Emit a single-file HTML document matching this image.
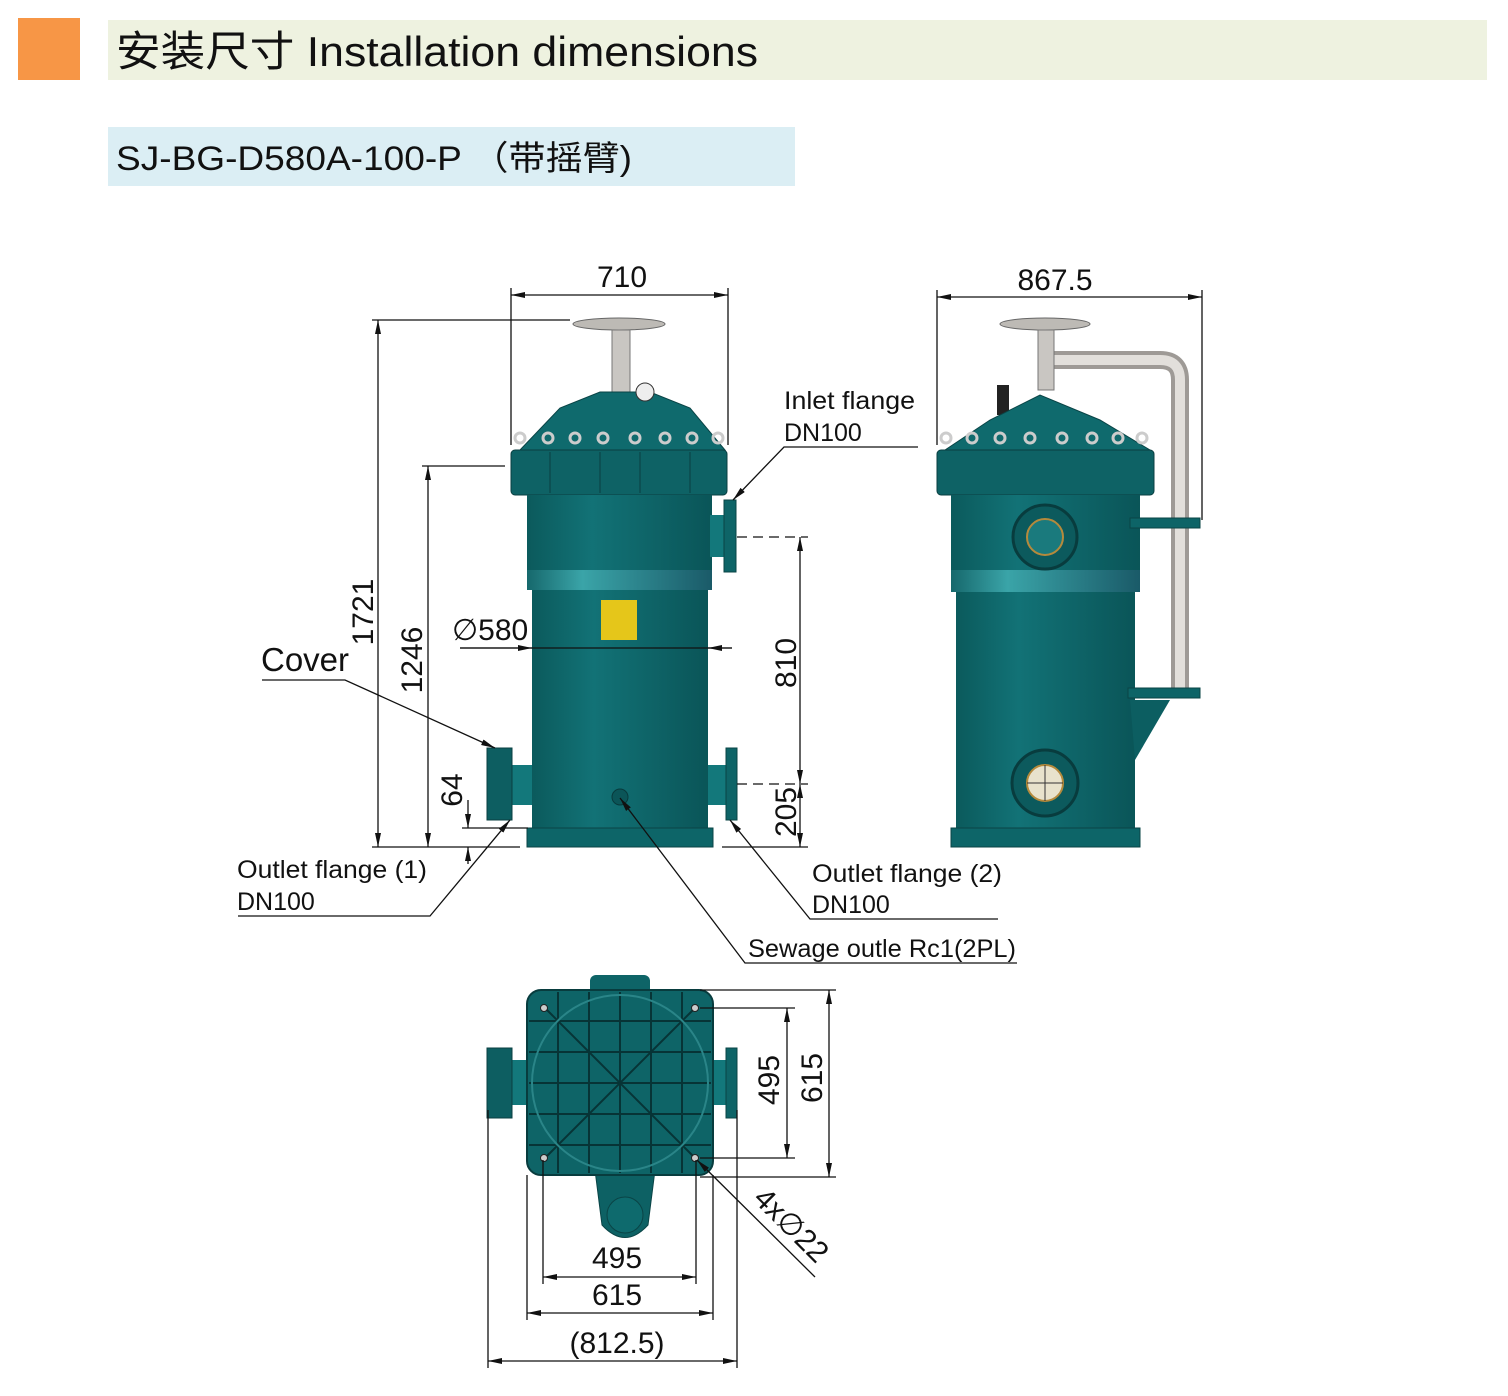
<!DOCTYPE html>
<html><head><meta charset="utf-8"><style>
html,body{margin:0;padding:0;background:#fff;}
svg{display:block}
.d{font-family:"Liberation Sans Narrow","Liberation Sans",sans-serif;font-size:30px;fill:#111}
.l{font-family:"Liberation Sans",sans-serif;font-size:25px;fill:#111}
</style></head><body>
<svg width="1508" height="1396" viewBox="0 0 1508 1396" xmlns="http://www.w3.org/2000/svg">
<defs>
<linearGradient id="body" x1="0" x2="1" y1="0" y2="0">
<stop offset="0" stop-color="#0b5a5c"/><stop offset="0.35" stop-color="#127276"/><stop offset="1" stop-color="#0a5558"/>
</linearGradient>
<linearGradient id="band" x1="0" x2="1">
<stop offset="0" stop-color="#16686c"/><stop offset="0.3" stop-color="#3aa4a8"/><stop offset="1" stop-color="#1a5a68"/>
</linearGradient>
<marker id="a" markerWidth="14" markerHeight="6" refX="14" refY="3" orient="auto" markerUnits="userSpaceOnUse"><path d="M0,0 L14,3 L0,6z" fill="#111"/></marker>
<marker id="s" markerWidth="14" markerHeight="6" refX="0" refY="3" orient="auto" markerUnits="userSpaceOnUse"><path d="M14,0 L0,3 L14,6z" fill="#111"/></marker>
</defs>

<!-- headers -->
<rect x="18" y="18" width="62" height="62" fill="#f79646"/>
<rect x="108" y="20" width="1379" height="60" fill="#eef2e0"/>
<text x="116" y="66" textLength="642" lengthAdjust="spacingAndGlyphs" style="font-family:'Liberation Sans','Noto Sans CJK SC',sans-serif;font-size:42px" fill="#111">安装尺寸 Installation dimensions</text>
<rect x="108" y="127" width="687" height="59" fill="#dbeef4"/>
<text x="116" y="170" textLength="516" lengthAdjust="spacingAndGlyphs" style="font-family:'Liberation Sans','Noto Sans CJK SC',sans-serif;font-size:34px" fill="#111">SJ-BG-D580A-100-P （带摇臂)</text>

<!-- FRONT VIEW -->
<g>
<ellipse cx="619" cy="324" rx="46" ry="6" fill="#bdbab5" stroke="#666"/>
<rect x="612" y="330" width="18" height="62" fill="#c9c6c2" stroke="#777"/>
<path d="M520,450 L560,408 L600,392 L650,392 L690,408 L725,450z" fill="#0f6a6d" stroke="#0a4446"/>
<circle cx="645" cy="392" r="9" fill="#eee" stroke="#333"/>
<g fill="none" stroke="#ccc" stroke-width="3">
<circle cx="520" cy="438" r="5"/><circle cx="548" cy="438" r="5"/><circle cx="575" cy="438" r="5"/><circle cx="603" cy="438" r="5"/><circle cx="635" cy="438" r="5"/><circle cx="665" cy="438" r="5"/><circle cx="692" cy="438" r="5"/><circle cx="718" cy="438" r="5"/>
</g>
<rect x="511" y="450" width="216" height="45" rx="4" fill="#0e6265" stroke="#0a3f41"/>
<g stroke="#0a3f41"><line x1="550" y1="452" x2="550" y2="493"/><line x1="600" y1="452" x2="600" y2="493"/><line x1="640" y1="452" x2="640" y2="493"/><line x1="690" y1="452" x2="690" y2="493"/></g>
<rect x="527" y="495" width="185" height="75" fill="url(#body)"/>
<rect x="527" y="570" width="185" height="20" fill="url(#band)"/>
<rect x="532" y="590" width="176" height="238" fill="url(#body)"/>
<rect x="527" y="828" width="186" height="19" fill="#0d6568" stroke="#0a4446"/>
<rect x="601" y="600" width="36" height="40" fill="#e5c61a"/>
<rect x="710" y="515" width="14" height="42" fill="#13787b"/>
<rect x="724" y="500" width="12" height="72" fill="#0e6467" stroke="#0a4446"/>
<rect x="510" y="765" width="22" height="40" fill="#13787b"/>
<rect x="487" y="748" width="25" height="72" fill="#0d5e61" stroke="#0a3f41"/>
<rect x="708" y="765" width="18" height="40" fill="#13787b"/>
<rect x="726" y="748" width="11" height="72" fill="#0e6467" stroke="#0a4446"/>
<circle cx="620" cy="797" r="8" fill="#0b5558" stroke="#083a3c"/>
</g>

<!-- SIDE VIEW -->
<g>
<path d="M1046,360 L1160,360 Q1180,360 1180,380 L1180,690" fill="none" stroke="#9e9a96" stroke-width="18"/>
<path d="M1046,360 L1160,360 Q1180,360 1180,380 L1180,690" fill="none" stroke="#e2dfdb" stroke-width="10"/>
<ellipse cx="1045" cy="324" rx="45" ry="6" fill="#bdbab5" stroke="#666"/>
<rect x="1038" y="330" width="16" height="60" fill="#c9c6c2" stroke="#777"/>
<rect x="997" y="385" width="12" height="30" fill="#222"/>
<path d="M945,450 L990,420 L1040,395 L1100,420 L1150,450z" fill="#0f6a6d" stroke="#0a4446"/>
<g fill="none" stroke="#ccc" stroke-width="3">
<circle cx="946" cy="438" r="5"/><circle cx="972" cy="438" r="5"/><circle cx="1000" cy="438" r="5"/><circle cx="1030" cy="438" r="5"/><circle cx="1062" cy="438" r="5"/><circle cx="1092" cy="438" r="5"/><circle cx="1118" cy="438" r="5"/><circle cx="1142" cy="438" r="5"/>
</g>
<rect x="937" y="450" width="217" height="45" rx="4" fill="#0e6265" stroke="#0a3f41"/>
<rect x="951" y="495" width="189" height="75" fill="url(#body)"/>
<rect x="951" y="570" width="189" height="22" fill="url(#band)"/>
<rect x="956" y="592" width="179" height="236" fill="url(#body)"/>
<rect x="951" y="828" width="189" height="19" fill="#0d6568" stroke="#0a4446"/>
<path d="M1130,700 L1170,700 L1135,760z" fill="#0c5e61"/>
<rect x="1130" y="518" width="70" height="10" fill="#0d6467" stroke="#0a4446"/>
<rect x="1128" y="688" width="72" height="10" fill="#0d6467" stroke="#0a4446"/>
<circle cx="1045" cy="537" r="32" fill="#0c5a5d" stroke="#083c3e" stroke-width="3"/>
<circle cx="1045" cy="537" r="18" fill="#1a7a7d" stroke="#b58a3c" stroke-width="2"/>
<circle cx="1045" cy="783" r="33" fill="#0c5a5d" stroke="#083c3e" stroke-width="3"/>
<circle cx="1045" cy="783" r="18" fill="#e8e2cc" stroke="#b58a3c" stroke-width="2"/>
<path d="M1045,765 V801 M1027,783 H1063" stroke="#333"/>
</g>

<!-- TOP VIEW -->
<g>
<rect x="590" y="975" width="60" height="20" rx="6" fill="#0e6467"/>
<path d="M595,1170 L655,1170 L648,1225 Q625,1250 602,1225z" fill="#0d6164" stroke="#0a4446"/>
<circle cx="625" cy="1215" r="18" fill="#0e6a6d" stroke="#0a4446"/>
<rect x="512" y="1060" width="18" height="45" fill="#13787b"/>
<rect x="487" y="1048" width="25" height="70" fill="#0d5e61" stroke="#0a3f41"/>
<rect x="710" y="1060" width="16" height="45" fill="#13787b"/>
<rect x="726" y="1048" width="11" height="70" fill="#0e6467" stroke="#0a4446"/>
<rect x="527" y="990" width="186" height="185" rx="14" fill="#0e6467" stroke="#083c3e" stroke-width="2"/>
<g stroke="#073436" stroke-width="2" fill="none">
<line x1="558" y1="992" x2="558" y2="1173"/><line x1="589" y1="992" x2="589" y2="1173"/><line x1="620" y1="992" x2="620" y2="1173"/><line x1="651" y1="992" x2="651" y2="1173"/><line x1="682" y1="992" x2="682" y2="1173"/>
<line x1="529" y1="1021" x2="711" y2="1021"/><line x1="529" y1="1052" x2="711" y2="1052"/><line x1="529" y1="1083" x2="711" y2="1083"/><line x1="529" y1="1114" x2="711" y2="1114"/><line x1="529" y1="1145" x2="711" y2="1145"/>
<line x1="545" y1="1008" x2="695" y2="1158"/><line x1="695" y1="1008" x2="545" y2="1158"/>
<circle cx="620" cy="1083" r="88" stroke="#2a8588"/>
</g>
<g fill="#ccc" stroke="#222"><circle cx="544" cy="1008" r="3.5"/><circle cx="695" cy="1008" r="3.5"/><circle cx="544" cy="1158" r="3.5"/><circle cx="695" cy="1158" r="3.5"/></g>
</g>

<g stroke="#111" stroke-width="1.3" fill="none">
<line x1="511" y1="288" x2="511" y2="445"/><line x1="728" y1="288" x2="728" y2="445"/>
<line x1="511" y1="295" x2="728" y2="295" marker-start="url(#s)" marker-end="url(#a)"/>
<line x1="372" y1="320" x2="570" y2="320"/>
<line x1="372" y1="847" x2="520" y2="847"/>
<line x1="378" y1="320" x2="378" y2="847" marker-start="url(#s)" marker-end="url(#a)"/>
<line x1="422" y1="466" x2="505" y2="466"/>
<line x1="428" y1="466" x2="428" y2="847" marker-start="url(#s)" marker-end="url(#a)"/>
<line x1="462" y1="828" x2="528" y2="828"/>
<line x1="468" y1="800" x2="468" y2="828" marker-end="url(#a)"/>
<line x1="468" y1="864" x2="468" y2="847" marker-end="url(#a)"/>
<line x1="460" y1="648" x2="732" y2="648"/>
<line x1="460" y1="648" x2="532" y2="648" marker-end="url(#a)"/>
<line x1="708" y1="648" x2="732" y2="648" marker-start="url(#s)"/>
<line x1="737" y1="537" x2="808" y2="537" stroke-dasharray="10,6"/>
<line x1="737" y1="784" x2="808" y2="784" stroke-dasharray="10,6"/>
<line x1="722" y1="847" x2="808" y2="847"/>
<line x1="800" y1="537" x2="800" y2="784" marker-start="url(#s)" marker-end="url(#a)"/>
<line x1="800" y1="784" x2="800" y2="847" marker-start="url(#s)" marker-end="url(#a)"/>
<polyline points="262,680 345,680 495,748" marker-end="url(#a)"/>
<polyline points="918,447 784,447 733,500" marker-end="url(#a)"/>
<polyline points="238,916 430,916 510,820" marker-end="url(#a)"/>
<polyline points="998,919 810,919 730,820" marker-end="url(#a)"/>
<polyline points="1017,963 745,963 620,798" marker-end="url(#a)"/>
<line x1="937" y1="290" x2="937" y2="445"/><line x1="1202" y1="290" x2="1202" y2="520"/>
<line x1="937" y1="297" x2="1202" y2="297" marker-start="url(#s)" marker-end="url(#a)"/>
<line x1="700" y1="990" x2="836" y2="990"/><line x1="700" y1="1177" x2="836" y2="1177"/>
<line x1="700" y1="1008" x2="795" y2="1008"/><line x1="700" y1="1158" x2="795" y2="1158"/>
<line x1="787" y1="1008" x2="787" y2="1158" marker-start="url(#s)" marker-end="url(#a)"/>
<line x1="829" y1="990" x2="829" y2="1177" marker-start="url(#s)" marker-end="url(#a)"/>
<line x1="488" y1="1110" x2="488" y2="1368"/><line x1="737" y1="1110" x2="737" y2="1368"/>
<line x1="527" y1="1175" x2="527" y2="1320"/><line x1="713" y1="1175" x2="713" y2="1320"/>
<line x1="543" y1="1160" x2="543" y2="1284"/><line x1="696" y1="1160" x2="696" y2="1284"/>
<line x1="543" y1="1277" x2="696" y2="1277" marker-start="url(#s)" marker-end="url(#a)"/>
<line x1="527" y1="1313" x2="713" y2="1313" marker-start="url(#s)" marker-end="url(#a)"/>
<line x1="488" y1="1361" x2="737" y2="1361" marker-start="url(#s)" marker-end="url(#a)"/>
<line x1="815" y1="1277" x2="697" y2="1160" marker-end="url(#a)"/>
</g>

<text class="d" x="622" y="287" text-anchor="middle">710</text>
<text class="d" x="1055" y="290" text-anchor="middle">867.5</text>
<text class="d" transform="translate(373,612) rotate(-90)" text-anchor="middle">1721</text>
<text class="d" transform="translate(422,660) rotate(-90)" text-anchor="middle">1246</text>
<text class="d" transform="translate(462,790) rotate(-90)" text-anchor="middle">64</text>
<text class="d" x="452" y="640">∅580</text>
<text class="d" transform="translate(796,663) rotate(-90)" text-anchor="middle">810</text>
<text class="d" transform="translate(796,812) rotate(-90)" text-anchor="middle">205</text>
<text class="d" transform="translate(779,1080) rotate(-90)" text-anchor="middle">495</text>
<text class="d" transform="translate(822,1078) rotate(-90)" text-anchor="middle">615</text>
<text class="d" x="617" y="1268" text-anchor="middle">495</text>
<text class="d" x="617" y="1305" text-anchor="middle">615</text>
<text class="d" x="617" y="1353" text-anchor="middle">(812.5)</text>
<text class="d" transform="translate(752,1200) rotate(45)">4x∅22</text>
<text class="d" x="261" y="671" style="font-size:33px">Cover</text>
<text class="l" x="784" y="409" textLength="131" lengthAdjust="spacingAndGlyphs">Inlet flange</text>
<text class="l" x="784" y="441">DN100</text>
<text class="l" x="237" y="878" textLength="190" lengthAdjust="spacingAndGlyphs">Outlet flange (1)</text>
<text class="l" x="237" y="910">DN100</text>
<text class="l" x="812" y="882" textLength="190" lengthAdjust="spacingAndGlyphs">Outlet flange (2)</text>
<text class="l" x="812" y="913">DN100</text>
<text class="l" x="748" y="957" textLength="268" lengthAdjust="spacingAndGlyphs">Sewage outle  Rc1(2PL)</text>
</svg>
</body></html>
